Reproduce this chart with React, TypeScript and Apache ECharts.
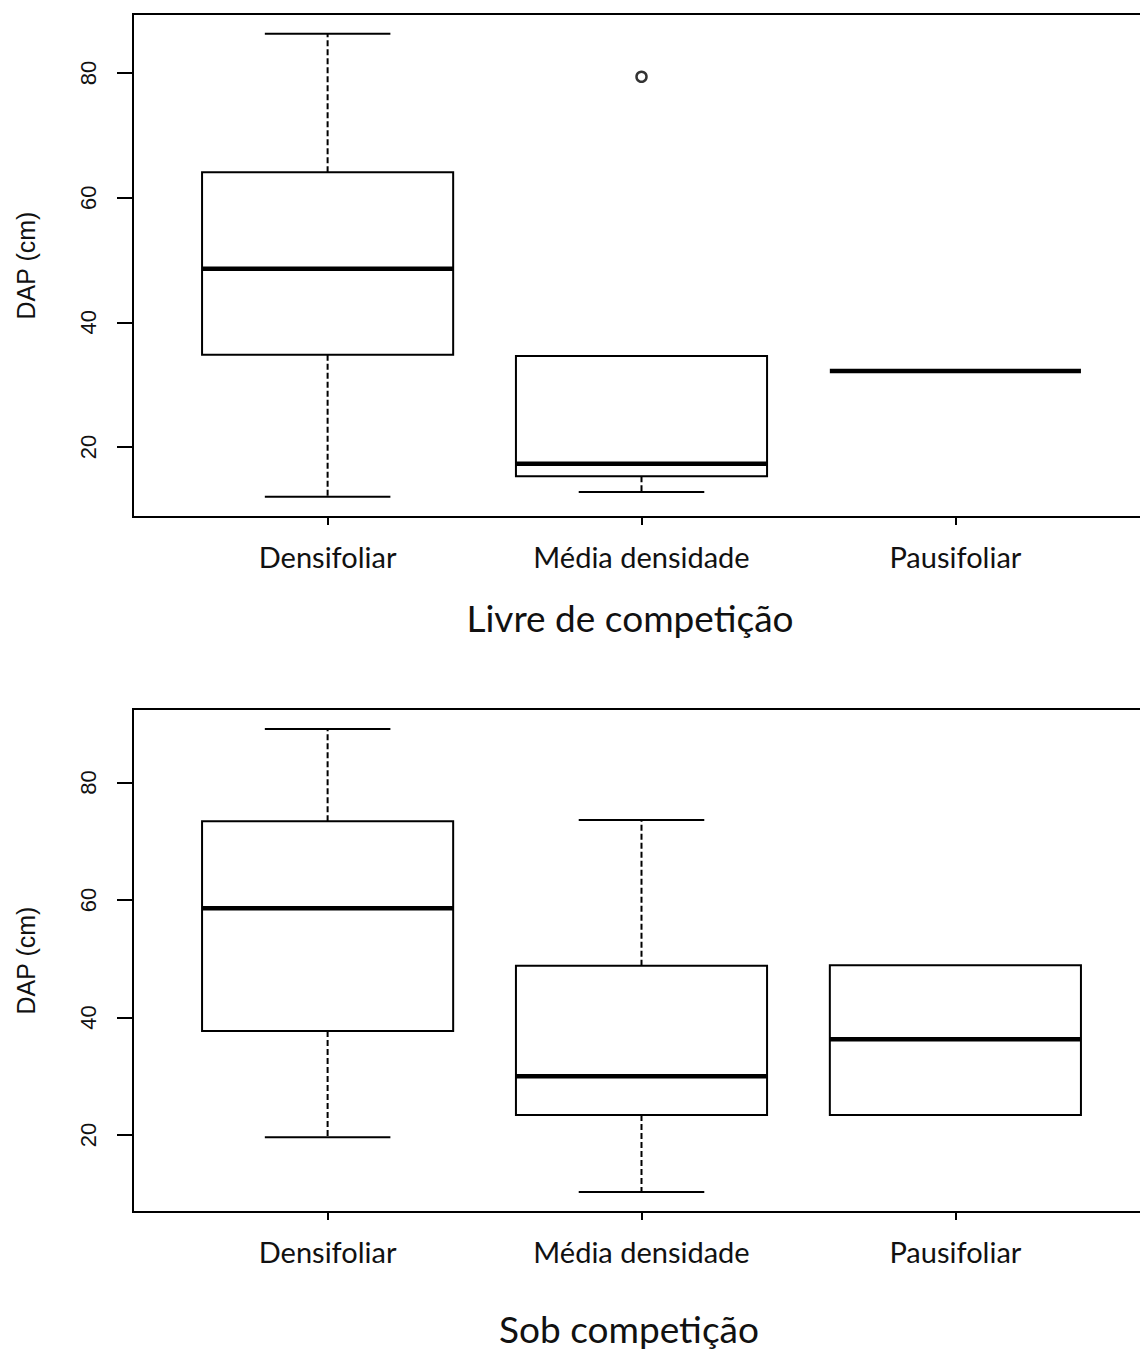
import React, { useEffect, useRef } from "react";
import * as echarts from "echarts";

const categories = ["Densifoliar", "Média densidade", "Pausifoliar"];
// [min, Q1, median, Q3, max]
const livreStats = [
  [12.0, 34.8, 48.6, 64.1, 86.3],
  [12.8, 15.3, 17.3, 34.6, 34.6],
  [32.2, 32.2, 32.2, 32.2, 32.2],
];
const livreOutliers = [[2, 79.4]];
const sobStats = [
  [19.6, 37.7, 58.6, 73.4, 89.1],
  [10.3, 23.4, 30.0, 48.8, 73.6],
  [23.4, 23.4, 36.3, 48.9, 48.9],
];
const yTicks = [20, 40, 60, 80];
const panelTitles = ["Livre de competição", "Sob competição"];
const yAxisTitle = "DAP (cm)";

const FONT = "Lato, 'Open Sans', sans-serif";
const AXFONT = "'Liberation Sans', Arial, sans-serif";

function toData(stats: number[][]) {
  return stats.map((s, i) => [i + 1, ...s]);
}

function renderBox(params: any, api: any) {
  const x = api.value(0);
  const mn = api.value(1);
  const q1 = api.value(2);
  const med = api.value(3);
  const q3 = api.value(4);
  const mx = api.value(5);
  const boxW = api.size([0.8, 0])[0];
  const capW = api.size([0.4, 0])[0];
  const pMin = api.coord([x, mn]);
  const pQ1 = api.coord([x, q1]);
  const pMed = api.coord([x, med]);
  const pQ3 = api.coord([x, q3]);
  const pMax = api.coord([x, mx]);
  const cx = pMed[0];
  const children: any[] = [];
  const dashStyle = { stroke: "#000", lineWidth: 2, lineDash: [6, 3] };
  const solid = { stroke: "#000", lineWidth: 2 };
  if (mx > q3) {
    children.push({ type: "line", shape: { x1: cx, y1: pQ3[1], x2: cx, y2: pMax[1] }, style: dashStyle });
    children.push({ type: "line", shape: { x1: cx - capW / 2, y1: pMax[1], x2: cx + capW / 2, y2: pMax[1] }, style: solid });
  }
  if (mn < q1) {
    children.push({ type: "line", shape: { x1: cx, y1: pQ1[1], x2: cx, y2: pMin[1] }, style: dashStyle });
    children.push({ type: "line", shape: { x1: cx - capW / 2, y1: pMin[1], x2: cx + capW / 2, y2: pMin[1] }, style: solid });
  }
  if (q3 > q1) {
    children.push({
      type: "rect",
      shape: { x: cx - boxW / 2, y: pQ3[1], width: boxW, height: pQ1[1] - pQ3[1] },
      style: { fill: "#fff", stroke: "#000", lineWidth: 2 },
    });
  }
  children.push({
    type: "line",
    shape: { x1: cx - boxW / 2, y1: pMed[1], x2: cx + boxW / 2, y2: pMed[1] },
    style: { stroke: "#000", lineWidth: 4.5 },
  });
  return { type: "group", children };
}

function xAxisFor(gridIndex: number) {
  return {
    type: "value",
    gridIndex,
    min: 0.38,
    max: 3.62,
    splitLine: { show: false },
    axisLine: { show: true, onZero: false, lineStyle: { color: "#000", width: 2 } },
    axisTick: { show: true, customValues: [1, 2, 3], length: 8, lineStyle: { color: "#000", width: 2 } },
    axisLabel: {
      customValues: [1, 2, 3],
      formatter: (v: number) => categories[Math.round(v) - 1],
      color: "#111",
      fontFamily: FONT,
      fontSize: 29,
      margin: 25,
    },
  };
}

function yAxisFor(gridIndex: number, min: number, max: number) {
  return {
    type: "value",
    gridIndex,
    min,
    max,
    splitLine: { show: false },
    axisLine: { show: true, onZero: false, lineStyle: { color: "#000", width: 2 } },
    axisTick: { show: true, customValues: yTicks, length: 16, lineStyle: { color: "#000", width: 2 } },
    axisLabel: {
      customValues: yTicks,
      rotate: 90,
      color: "#111",
      fontFamily: AXFONT,
      fontSize: 22,
      margin: 34,
    },
    name: yAxisTitle,
    nameLocation: "middle",
    nameRotate: 90,
    nameGap: 95,
    nameTextStyle: { color: "#111", fontFamily: AXFONT, fontSize: 25 },
  };
}

export default function App() {
  const ref = useRef<HTMLDivElement>(null);
  useEffect(() => {
    if (!ref.current) return;
    const chart = echarts.init(ref.current, null, { renderer: "svg" });
    chart.setOption({
      animation: false,
      backgroundColor: "#fff",
      grid: [
        { left: 133, top: 14, height: 503, right: 10, outerBoundsMode: "none", containLabel: false, show: true, borderColor: "#000", borderWidth: 2, backgroundColor: "transparent" },
        { left: 133, top: 709, height: 503, right: 10, outerBoundsMode: "none", containLabel: false, show: true, borderColor: "#000", borderWidth: 2, backgroundColor: "transparent" },
      ],
      xAxis: [xAxisFor(0), xAxisFor(1)],
      yAxis: [yAxisFor(0, 8.77, 89.47), yAxisFor(1, 6.9, 92.5)],
      series: [
        { type: "custom", xAxisIndex: 0, yAxisIndex: 0, data: toData(livreStats), renderItem: renderBox, encode: { x: 0, y: [1, 2, 3, 4, 5] } },
        {
          type: "scatter",
          xAxisIndex: 0,
          yAxisIndex: 0,
          data: livreOutliers,
          symbol: "circle",
          symbolSize: 10,
          itemStyle: { color: "#fff", borderColor: "#000", borderWidth: 2.5 },
        },
        { type: "custom", xAxisIndex: 1, yAxisIndex: 1, data: toData(sobStats), renderItem: renderBox, encode: { x: 0, y: [1, 2, 3, 4, 5] } },
      ],
      graphic: [
        { type: "text", x: 630, y: 617, style: { text: panelTitles[0], fill: "#111", font: `37px ${FONT}`, textAlign: "center", textVerticalAlign: "middle" } },
        { type: "text", x: 629, y: 1328, style: { text: panelTitles[1], fill: "#111", font: `37px ${FONT}`, textAlign: "center", textVerticalAlign: "middle" } },
      ],
    });
    return () => chart.dispose();
  }, []);
  return (
    <div style={{ position: "absolute", left: 0, top: 0, width: 1140, height: 1349, overflow: "hidden", background: "#fff" }}>
      <div ref={ref} style={{ width: 1160, height: 1349 }} />
    </div>
  );
}
